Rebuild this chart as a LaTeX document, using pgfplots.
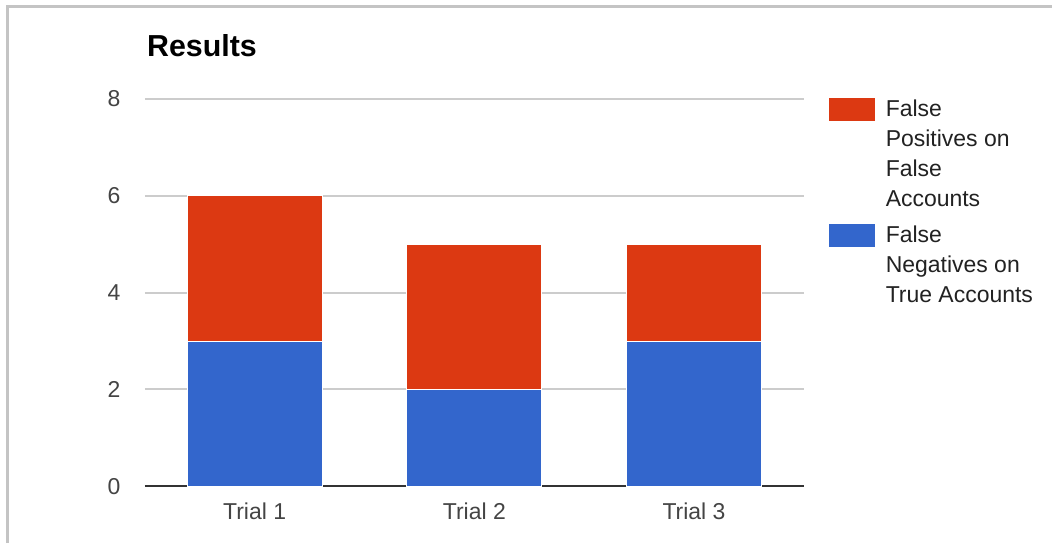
\documentclass[border=0pt]{standalone}
\usepackage{pgfplots}
\pgfplotsset{compat=1.18}
\usepackage{fontspec}
\setmainfont{Liberation Sans}
\definecolor{gred}{HTML}{DC3912}
\definecolor{gblue}{HTML}{3366CC}
\definecolor{gridc}{HTML}{CCCCCC}
\definecolor{tickc}{HTML}{444444}
\definecolor{legc}{HTML}{222222}
\definecolor{framec}{HTML}{C4C4C4}
\newcommand{\legtext}[1]{\parbox[b]{80pt}{\raggedright\fontsize{11.5}{15}\selectfont #1}}
\begin{document}
\begin{tikzpicture}
\fill[white] (0,0) rectangle (526.5pt,272pt);
\draw[framec, line width=1.5pt] (4pt,0) -- (4pt,268.5pt) -- (526.5pt,268.5pt);
\node[anchor=base west, inner sep=0pt, font=\bfseries\fontsize{15.2}{18}\selectfont] at (73.5pt,243.5pt) {Results};
\begin{axis}[
  at={(72.5pt,28.5pt)}, anchor=south west,
  scale only axis, width=330pt, height=194pt,
  ybar stacked, bar width=67.5pt,
  xmin=-0.5, xmax=2.5, ymin=0, ymax=8,
  xtick={0,1,2}, xticklabels={Trial 1, Trial 2, Trial 3},
  ytick={0,2,4,6,8},
  axis x line*=bottom, axis y line*=left,
  x axis line style={draw=black!80, line width=1pt},
  y axis line style={draw=none},
  major tick length=0pt,
  ymajorgrids, grid style={gridc, line width=1pt},
  /pgf/number format/assume math mode=true,
  ticklabel style={font=\fontsize{11.5}{14}\selectfont, text=tickc},
  xticklabel style={anchor=north, inner sep=0pt, yshift=-8pt},
  yticklabel style={anchor=east, inner sep=0pt, xshift=-12pt},
  reverse legend,
  legend style={at={(1.0379,1.0026)}, anchor=north west, draw=none, fill=none,
    inner sep=0pt, outer sep=0pt, row sep=7pt, column sep=5.5pt,
    font=\fontsize{11.5}{15}\selectfont, text=legc,
    nodes={anchor=north west, inner sep=0pt}},
  legend cell align=left,
]
\addplot[fill=gblue, draw=white, line width=0.5pt,
  legend image code/.code={\fill[gblue] (0pt,-10pt) rectangle (22.5pt,1pt);}]
  coordinates {(0,3) (1,2) (2,3)};
\addplot[fill=gred, draw=white, line width=0.5pt,
  legend image code/.code={\fill[gred] (0pt,-10pt) rectangle (22.5pt,1pt);}]
  coordinates {(0,3) (1,3) (2,2)};
\legend{{\legtext{False\\Negatives on\\True Accounts}}, {\legtext{False\\Positives on\\False\\Accounts}}}
\end{axis}
\end{tikzpicture}
\end{document}
